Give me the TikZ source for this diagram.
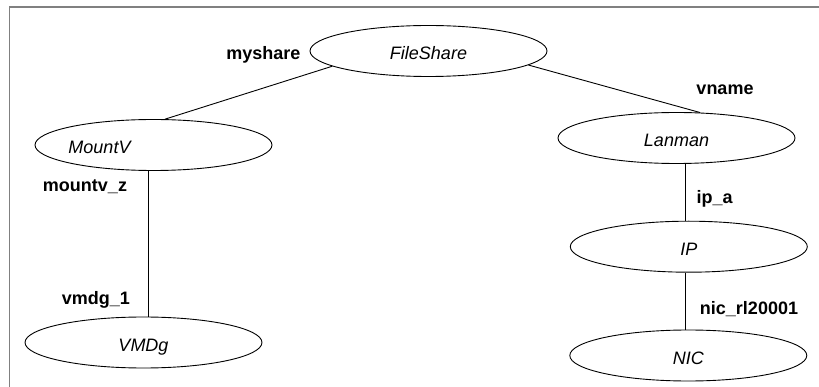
\documentclass[tikz,border=0pt]{standalone}
\usepackage{fontspec}
\setmainfont{Liberation Sans}
\usetikzlibrary{shapes.geometric,calc}
\tikzset{
  res/.style={draw, ellipse, line width=0.9pt, minimum width=237pt, minimum height=51pt, inner sep=0pt,
    font=\fontsize{18}{21}\selectfont\itshape, text height=17pt, text depth=0pt},
  restext/.style={font=\fontsize{18}{21}\selectfont\itshape, text height=17pt, text depth=0pt, inner sep=0pt},
  lbl/.style={font=\fontsize{18}{21}\selectfont\bfseries, anchor=base, inner sep=0pt},
  link/.style={line width=0.9pt},
  frame/.style={draw=gray, line width=1.6pt}
}
\begin{document}
\begin{tikzpicture}[x=1pt,y=-1pt]
\useasboundingbox (0,0) rectangle (819,387);
\draw[frame] (819,7) -- (9.5,7) -- (9.5,387);
% resources
\node[res] (fs) at (428.5,51) {FileShare};
\node[res, label={[restext, xshift=-54pt]center:MountV}] (mv) at (153.5,145) {};
\node[res] (ln) at (676.5,138) {Lanman};
\node[res] (vm) at (143.5,342.5) {VMDg};
\node[res] (ip) at (688.8,246.7) {IP};
\node[res] (nic) at (688.3,355.5) {NIC};
% connectors
\draw[link] (fs.189.4) -- (mv.66);
\draw[link] (fs.352) -- (ln.47);
\draw[link] ($(mv.south)+(-5.5,0)$) -- ($(vm.north)+(4.5,0)$);
\draw[link] ($(ln.south)+(8.5,0)$) -- ($(ip.north)+(-3.8,0)$);
\draw[link] ($(ip.south)+(-3.8,0)$) -- ($(nic.north)+(-3.3,0)$);
% labels
\node[lbl] (l1) at (263.3,60) {myshare};
\node[lbl] (l2) at (725,95) {vname};
\node[lbl] (l3) at (85,192) {mountv\_z};
\node[lbl] (l4) at (95.8,305) {vmdg\_1};
\node[lbl] (l5) at (714.7,204) {ip\_a};
\node[lbl] (l6) at (749,315) {nic\_rl20001};
\end{tikzpicture}
\end{document}
